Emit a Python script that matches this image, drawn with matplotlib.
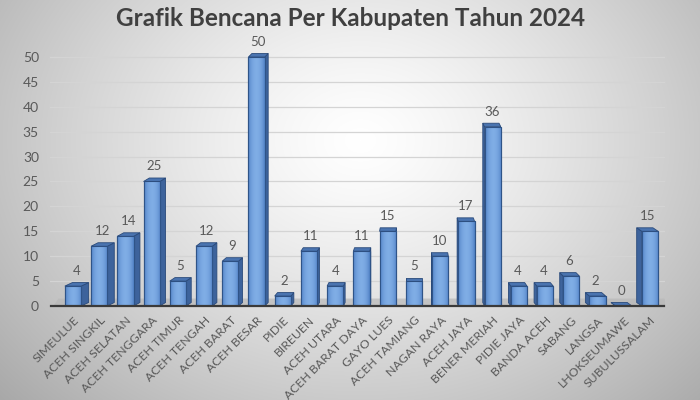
import numpy as np
import matplotlib
matplotlib.use("Agg")
import matplotlib.pyplot as plt
from matplotlib.patches import Polygon

categories = ["SIMEULUE", "ACEH SINGKIL", "ACEH SELATAN", "ACEH TENGGARA", "ACEH TIMUR",
              "ACEH TENGAH", "ACEH BARAT", "ACEH BESAR", "PIDIE", "BIREUEN", "ACEH UTARA",
              "ACEH BARAT DAYA", "GAYO LUES", "ACEH TAMIANG", "NAGAN RAYA", "ACEH JAYA",
              "BENER MERIAH", "PIDIE JAYA", "BANDA ACEH", "SABANG", "LANGSA",
              "LHOKSEUMAWE", "SUBULUSSALAM"]
values = [4, 12, 14, 25, 5, 12, 9, 50, 2, 11, 4, 11, 15, 5, 10, 17, 36, 4, 4, 6, 2, 0, 15]
yticks = [0, 5, 10, 15, 20, 25, 30, 35, 40, 45, 50]
title = "Grafik Bencana Per Kabupaten Tahun 2024"

plt.rcParams['font.family'] = ['Lato', 'DejaVu Sans']

fig = plt.figure(figsize=(7, 4), dpi=100)

# background radial gradient
bg = fig.add_axes([0, 0, 1, 1], zorder=-10)
yy, xx = np.mgrid[0:400, 0:700]
r = np.sqrt(((xx - 360) / 420.0) ** 2 + ((yy - 140) / 330.0) ** 2)
g = np.clip(1.0 - 0.28 * r ** 1.3, 0, 1)
img = np.dstack([g, g, g])
bg.imshow(img, aspect='auto', extent=[0, 1, 0, 1], origin='upper')
bg.axis('off')

ax = fig.add_axes([50 / 700, 1 - 306 / 400, 615 / 700, 256.5 / 400])
ax.set_facecolor('none')
n = len(categories)
x = np.arange(n)
ppu_x = 26.23
ax.set_xlim(-(73 - 50) / ppu_x, (n - 1) + (665 - 650) / ppu_x)
ax.set_ylim(0, 51.5)

for t in yticks:
    ax.axhline(t, color='#d4d4d4', lw=0.9, zorder=0)

# floor
floor = Polygon([[-0.75, 0], [n - 0.3, 0], [n - 0.45, 1.5], [-0.55, 1.5]],
                closed=True, facecolor='#b8b8b8', edgecolor='none', zorder=1, alpha=0.7)
ax.add_patch(floor)

w = 0.62
bars = ax.bar(x, values, width=w, color='#5b87c7', edgecolor='#2f5488',
              linewidth=0.8, zorder=3)

grad = np.linspace(0, 1, 64)
gimg = np.zeros((1, 64, 3))
c1 = np.array([0.30, 0.49, 0.76])
c2 = np.array([0.50, 0.68, 0.90])
prof = np.sin(grad * np.pi) ** 0.7
for k in range(64):
    gimg[0, k] = c1 + (c2 - c1) * prof[k]

center = 13.0
dy = 0.7
for i, (b, v) in enumerate(zip(bars, values)):
    x0 = b.get_x()
    x1 = x0 + b.get_width()
    dx = (center - i) * 0.022
    if v > 0:
        im = ax.imshow(gimg, extent=[x0, x1, 0, v], aspect='auto', zorder=3.5,
                       interpolation='bicubic')
        im.set_clip_path(b)
        ax.bar(x[i], v, width=w, facecolor='none', edgecolor='#2f5488',
               linewidth=0.8, zorder=3.6)
    # side face
    if dx > 0:
        side = [[x1, 0], [x1 + dx, dy], [x1 + dx, v + dy], [x1, v]]
    else:
        side = [[x0, 0], [x0 + dx, dy], [x0 + dx, v + dy], [x0, v]]
    ax.add_patch(Polygon(side, closed=True, facecolor='#3d639c', edgecolor='#2a4a7a',
                         linewidth=0.6, zorder=2.9))
    # top face
    top = [[x0, v], [x1, v], [x1 + dx, v + dy], [x0 + dx, v + dy]]
    ax.add_patch(Polygon(top, closed=True, facecolor='#4a74b0', edgecolor='#2a4a7a',
                         linewidth=0.6, zorder=3.7))
    ax.annotate(str(v), (x[i] + dx / 2, v + dy), xytext=(0, 4), textcoords='offset points',
                ha='center', va='bottom', fontsize=9.5, color='#595959')

ax.plot([-0.85, n - 0.45], [0, 0], color='#3a3a3a', lw=1.6, zorder=4, clip_on=False)

ax.set_yticks(yticks)
ax.set_yticklabels([str(t) for t in yticks], fontsize=10, color='#595959')
ax.set_xticks(x)
ax.set_xticklabels(categories, rotation=45, ha='right', rotation_mode='anchor',
                   fontsize=8.8, color='#595959')
ax.tick_params(axis='both', length=0, pad=6)
ax.tick_params(axis='y', pad=8)
for s in ax.spines.values():
    s.set_visible(False)

fig.text(0.5, 1 - 19 / 400, title, ha='center', va='center', fontsize=17.5,
         fontweight='bold', color='#404040')

fig.savefig('out.png', dpi=100)
